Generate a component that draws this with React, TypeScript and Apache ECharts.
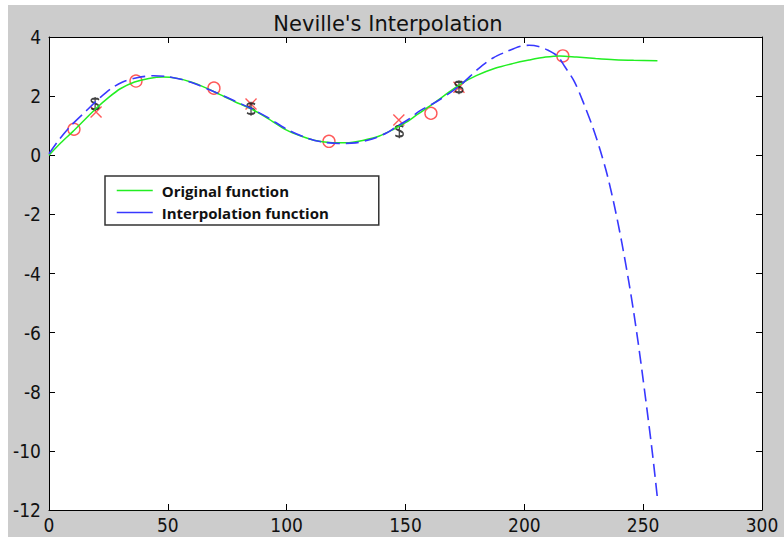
import React, { useEffect, useRef } from "react";
import * as echarts from "echarts";

const xTicks = [0, 50, 100, 150, 200, 250, 300];
const yTicks = [-12, -10, -8, -6, -4, -2, 0, 2, 4];

const origX = [0, 5, 10, 15, 20, 25, 30, 36, 42, 48, 54, 60, 66, 72, 78, 85, 92, 100, 106, 112, 118, 125, 132, 139, 145, 150, 155, 160, 166, 173, 180, 188, 195, 202, 209, 215, 222, 230, 238, 246, 256];
const origY = [0, 0.42, 0.8, 1.2, 1.6, 1.95, 2.25, 2.48, 2.6, 2.65, 2.6, 2.47, 2.28, 2.05, 1.82, 1.57, 1.25, 0.85, 0.65, 0.5, 0.43, 0.42, 0.5, 0.65, 0.88, 1.1, 1.38, 1.65, 2.0, 2.4, 2.7, 2.95, 3.1, 3.22, 3.32, 3.36, 3.32, 3.27, 3.23, 3.21, 3.2];

const interpX = [0, 4, 9, 15, 21.5, 26, 31, 37, 44, 50, 56, 62, 68, 75, 85, 92, 100, 108, 115, 122, 129, 136, 142, 146, 151, 156, 164, 173, 181, 187, 193, 198, 202, 206, 210, 214, 217, 221, 225, 229, 232, 235, 238, 241, 244, 246, 248, 250, 252, 254, 256];
const interpY = [0.05, 0.5, 0.98, 1.45, 1.95, 2.25, 2.48, 2.62, 2.69, 2.66, 2.56, 2.4, 2.2, 1.95, 1.58, 1.28, 0.88, 0.6, 0.45, 0.4, 0.42, 0.55, 0.75, 0.96, 1.2, 1.5, 1.86, 2.37, 2.95, 3.3, 3.52, 3.68, 3.72, 3.68, 3.55, 3.35, 3.0, 2.5, 1.75, 0.9, 0.15, -0.7, -1.75, -2.95, -4.3, -5.3, -6.4, -7.6, -8.85, -10.15, -11.6];

const circleX = [10.5, 36.6, 69.4, 117.8, 160.7, 216.2];
const circleY = [0.88, 2.51, 2.27, 0.47, 1.42, 3.36];

const crossX = [19.8, 85, 147.2, 172.5];
const crossY = [1.46, 1.73, 1.19, 2.3];

const nodeX = [19.4, 85, 147.4, 172.5];
const nodeY = [1.73, 1.57, 0.81, 2.3];

const zip = (xs: number[], ys: number[]) => xs.map((x, i) => [x, ys[i]]);

const DOLLAR = "path://M8,3 C7,1 2,1 2,4 C2,7 8,7 8,11 C8,14.5 3,14.5 2,12.5 M5,0 L5,16";
const CROSS = "path://M0,0 L10,10 M10,0 L0,10";

export default function App() {
  const ref = useRef<HTMLDivElement>(null);
  useEffect(() => {
    if (!ref.current) return;
    const chart = echarts.init(ref.current, undefined, { renderer: "svg" });
    const tickFont = {
      fontFamily: "'Liberation Sans Narrow', 'DejaVu Sans Condensed', 'Liberation Sans', sans-serif",
      fontSize: 19,
      color: "#111",
    };
    const axisCommon = {
      axisLine: { show: true, onZero: false, lineStyle: { color: "#000", width: 1 } },
      axisTick: { show: true, inside: true, length: 6, lineStyle: { color: "#000" } },
      splitLine: { show: false },
    };
    chart.setOption({
      animation: false,
      backgroundColor: "transparent",
      title: {
        text: "Neville's Interpolation",
        left: 383,
        top: 8,
        textAlign: "center",
        textStyle: { fontFamily: "'DejaVu Sans', sans-serif", fontSize: 21, fontWeight: "normal", color: "#111" },
      },
      grid: { left: 49, right: 22, top: 37, bottom: 27, show: true, backgroundColor: "#fff", borderWidth: 0 },
      legend: {
        left: 105,
        top: 176,
        orient: "vertical",
        data: ["Original function", "Interpolation function"],
        backgroundColor: "#fff",
        borderColor: "#333",
        borderWidth: 1.5,
        padding: [7, 50, 5, 11],
        itemWidth: 36,
        itemHeight: 14,
        itemGap: 7,
        itemStyle: { opacity: 0 },
        lineStyle: { type: "solid", width: 1.5 },
        textStyle: { fontFamily: "'Open Sans', sans-serif", fontWeight: "bold", fontSize: 15, color: "#111", padding: [0, 0, 0, 4] },
      },
      xAxis: [
        { type: "value", min: 0, max: 300, interval: 50, position: "bottom", ...axisCommon, axisLabel: { ...tickFont, margin: 5 } },
        { type: "value", min: 0, max: 300, interval: 50, position: "top", ...axisCommon, axisLabel: { show: false } },
      ],
      yAxis: [
        { type: "value", min: -12, max: 4, interval: 2, position: "left", ...axisCommon, axisLabel: { ...tickFont, margin: 8 } },
        { type: "value", min: -12, max: 4, interval: 2, position: "right", ...axisCommon, axisLabel: { show: false } },
      ],
      series: [
        {
          name: "Original function",
          type: "line",
          data: zip(origX, origY),
          symbol: "none",
          smooth: 0.3,
          lineStyle: { color: "#22ee22", width: 1.5 },
          itemStyle: { color: "#22ee22" },
        },
        {
          name: "Interpolation function",
          type: "line",
          data: zip(interpX, interpY),
          symbol: "none",
          smooth: 0.3,
          lineStyle: { color: "#3838ff", width: 1.6, type: [13, 6] },
          itemStyle: { color: "#3838ff" },
        },
        {
          name: "samples",
          type: "scatter",
          data: zip(circleX, circleY),
          symbol: "circle",
          symbolSize: 12,
          itemStyle: { color: "transparent", borderColor: "#ff3030", borderWidth: 1.4 },
        },
        {
          name: "nodes",
          type: "scatter",
          data: zip(crossX, crossY),
          symbol: CROSS,
          symbolSize: 11,
          itemStyle: { color: "transparent", borderColor: "#ff3030", borderWidth: 1.4 },
        },
        {
          name: "values",
          type: "scatter",
          data: zip(nodeX, nodeY),
          symbol: DOLLAR,
          symbolSize: [8, 14],
          itemStyle: { color: "transparent", borderColor: "#111", borderWidth: 1.6 },
        },
      ],
    });
    return () => chart.dispose();
  }, []);

  return (
    <div style={{ position: "fixed", left: 0, top: 0, width: 784, height: 537, background: "#fff" }}>
      <div style={{ position: "absolute", left: 8, top: 5, width: 776, height: 532, background: "#cccccc" }} />
      <div ref={ref} style={{ position: "absolute", left: 0, top: 0, width: 784, height: 537 }} />
    </div>
  );
}
